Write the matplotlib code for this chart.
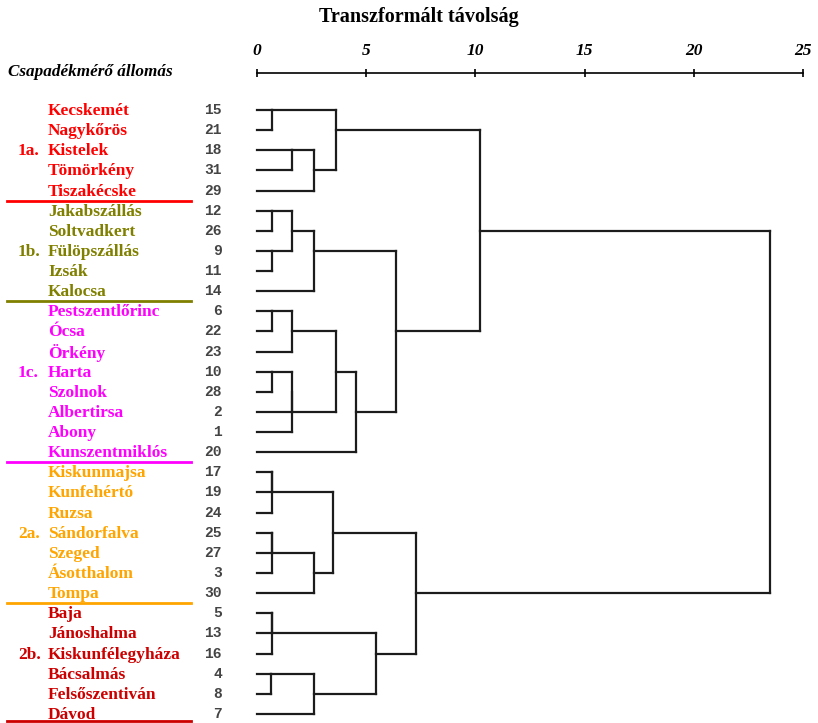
import math

import matplotlib
matplotlib.use("Agg")
import matplotlib.pyplot as plt
from matplotlib.transforms import blended_transform_factory

# leaf order top to bottom (station name, case number)
stations = [
    "Kecskemét", "Nagykőrös", "Kistelek", "Tömörkény", "Tiszakécske",
    "Jakabszállás", "Soltvadkert", "Fülöpszállás", "Izsák", "Kalocsa",
    "Pestszentlőrinc", "Ócsa", "Örkény", "Harta", "Szolnok", "Albertirsa",
    "Abony", "Kunszentmiklós",
    "Kiskunmajsa", "Kunfehértó", "Ruzsa", "Sándorfalva", "Szeged",
    "Ásotthalom", "Tompa",
    "Baja", "Jánoshalma", "Kiskunfélegyháza", "Bácsalmás", "Felsőszentiván",
    "Dávod",
]
case_numbers = [15, 21, 18, 31, 29, 12, 26, 9, 11, 14, 6, 22, 23, 10, 28, 2,
                1, 20, 17, 19, 24, 25, 27, 3, 30, 5, 13, 16, 4, 8, 7]

# groups: label, first row, last row, row of the label, colour
group_names = ["1a.", "1b.", "1c.", "2a.", "2b."]
group_first = [0, 5, 10, 18, 25]
group_last = [4, 9, 17, 24, 30]
group_label_row = [2, 7, 13, 21, 27]
group_colors = ["#ff0000", "#808000", "#ff00ff", "#ffa500", "#cc0000"]

# agglomeration steps: (cluster a, cluster b, distance)
# leaves are "L<row>", merged clusters "C<step index>"
merges = [
    ("L0", "L1", 0.7),     # C0  15+21
    ("L2", "L3", 1.6),     # C1  18+31
    ("C1", "L4", 2.6),     # C2  +29
    ("C0", "C2", 3.6),     # C3  1a
    ("L5", "L6", 0.7),     # C4  12+26
    ("L7", "L8", 0.7),     # C5  9+11
    ("C4", "C5", 1.6),     # C6
    ("C6", "L9", 2.6),     # C7  1b
    ("L10", "L11", 0.7),   # C8  6+22
    ("C8", "L12", 1.6),    # C9  +23
    ("L13", "L14", 0.7),   # C10 10+28
    ("C10", "L15", 1.6),   # C11 +2
    ("C11", "L16", 1.6),   # C12 +1
    ("C9", "C12", 3.6),    # C13
    ("C13", "L17", 4.55),  # C14 +20 -> 1c
    ("C7", "C14", 6.35),   # C15 1b+1c
    ("C3", "C15", 10.2),   # C16 1a+1b+1c
    ("L18", "L19", 0.7),   # C17 17+19
    ("C17", "L20", 0.7),   # C18 +24
    ("L21", "L22", 0.7),   # C19 25+27
    ("C19", "L23", 0.7),   # C20 +3
    ("C20", "L24", 2.6),   # C21 +30
    ("C18", "C21", 3.5),   # C22 2a
    ("L25", "L26", 0.7),   # C23 5+13
    ("C23", "L27", 0.7),   # C24 +16
    ("L28", "L29", 0.65),  # C25 4+8
    ("C25", "L30", 2.6),   # C26 +7
    ("C24", "C26", 5.45),  # C27 2b
    ("C22", "C27", 7.3),   # C28 2a+2b
    ("C16", "C28", 23.5),  # C29 root
]

W, H = 818, 723
fig = plt.figure(figsize=(W / 100, H / 100), dpi=100)

# dendrogram axes: x = distance 0..25, y = leaf rows
row_px = 20.13
top_px, bottom_px, x0_px, x25_px = 73, 723, 257, 803
ax = fig.add_axes([x0_px / W, 1 - bottom_px / H,
                   (x25_px - x0_px) / W, (bottom_px - top_px) / H])
ytop = -(110 - top_px) / row_px
ybot = ytop + (bottom_px - top_px) / row_px
ax.set_ylim(ybot, ytop)
ax.set_xlim(0, 25)

line_kw = dict(color="#1c1c1c", lw=1.6, solid_capstyle="projecting",
               clip_on=False)
pos = {}
height = {}
for i in range(len(stations)):
    pos[f"L{i}"] = i
    height[f"L{i}"] = 0.0
for k, (a, b, d) in enumerate(merges):
    ya, yb = pos[a], pos[b]
    ax.plot([height[a], d], [ya, ya], **line_kw)
    ax.plot([height[b], d], [yb, yb], **line_kw)
    ax.plot([d, d], [ya, yb], **line_kw)
    # SPSS style: the joined cluster leaves from the middle row, rounded up
    pos[f"C{k}"] = math.floor((ya + yb) / 2)
    height[f"C{k}"] = d

# distance scale on top
for s in ["left", "right", "bottom"]:
    ax.spines[s].set_visible(False)
ax.spines["top"].set_linewidth(1.2)
ax.set_yticks([])
ax.xaxis.tick_top()
ax.set_xticks([0, 5, 10, 15, 20, 25])
ax.tick_params(axis="x", direction="inout", length=6, width=1.2, pad=7,
               labelsize=12.5)
for lab in ax.get_xticklabels():
    lab.set_fontfamily("Liberation Serif")
    lab.set_fontweight("bold")
    lab.set_fontstyle("italic")

fig.text(419 / W, 1 - 17 / H, "Transzformált távolság", ha="center",
         va="center", fontsize=14.5, fontweight="bold",
         family="Liberation Serif")
fig.text(8 / W, 1 - 72 / H, "Csapadékmérő állomás", ha="left", va="center",
         fontsize=12.3, fontweight="bold", fontstyle="italic",
         family="Liberation Serif")

tr = blended_transform_factory(fig.transFigure, ax.transData)
row_color = {}
for g in range(len(group_names)):
    for r in range(group_first[g], group_last[g] + 1):
        row_color[r] = group_colors[g]

for r, (name, num) in enumerate(zip(stations, case_numbers)):
    ax.text(48 / W, r + 0.05, name, transform=tr, ha="left", va="center",
            fontsize=12.5, fontweight="bold", family="Liberation Serif",
            color=row_color[r], clip_on=False)
    ax.text(222 / W, r, str(num), transform=tr, ha="right", va="center",
            fontsize=10.5, fontweight="bold", family="Liberation Mono",
            color="#444444", clip_on=False)

for g in range(len(group_names)):
    ax.text(18 / W, group_label_row[g] + 0.05, group_names[g], transform=tr,
            ha="left", va="center", fontsize=12.5, fontweight="bold",
            family="Liberation Serif", color=group_colors[g], clip_on=False)
    ysep = min(group_last[g] + 0.5, len(stations) - 1 + 0.35)
    ax.plot([7 / W, 191 / W], [ysep, ysep], transform=tr,
            color=group_colors[g], lw=2.0, clip_on=False)

fig.savefig("out.png", dpi=100)
